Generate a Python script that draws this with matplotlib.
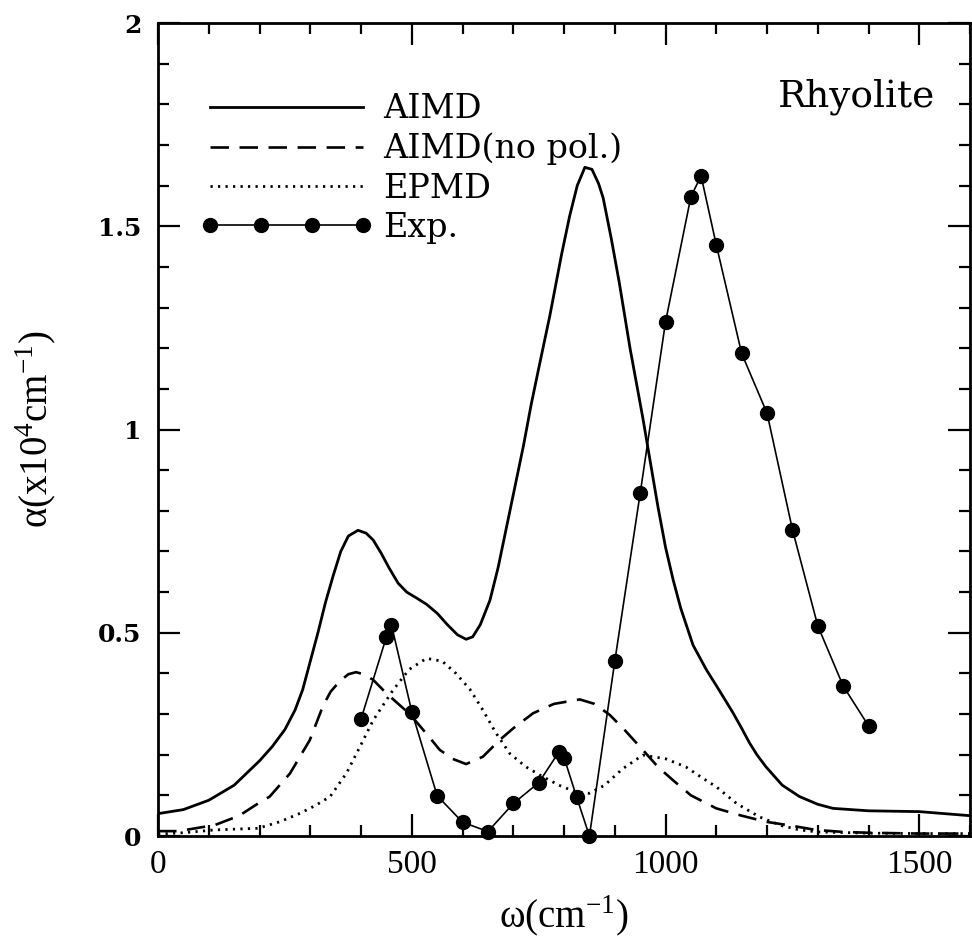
import matplotlib.pyplot as plt
from matplotlib.ticker import MultipleLocator, FixedLocator

plt.rcParams["mathtext.fontset"] = "custom"
plt.rcParams["mathtext.rm"] = "Liberation Serif"

# Absorption spectra of rhyolite.
# alpha in units of 1e4 cm^-1, omega in cm^-1.

aimd_x = [0, 50, 100, 150, 200, 225, 250, 270, 285, 300, 315, 330, 345, 360, 375, 394,
          410, 424, 440, 455, 473, 490, 510, 529, 550, 570, 590, 607, 620, 635, 654,
          670, 690, 705, 720, 735, 750, 772, 795, 811, 826, 841, 855, 868, 877, 893,
          909, 930, 955, 970, 985, 1000, 1015, 1030, 1054, 1080, 1105, 1132, 1150,
          1165, 1180, 1198, 1230, 1264, 1300, 1330, 1400, 1500, 1600]
aimd_y = [0.055, 0.065, 0.088, 0.125, 0.185, 0.22, 0.262, 0.31, 0.36, 0.43, 0.50, 0.575,
          0.64, 0.70, 0.738, 0.752, 0.745, 0.728, 0.695, 0.66, 0.622, 0.60, 0.585, 0.57,
          0.548, 0.52, 0.495, 0.484, 0.49, 0.52, 0.58, 0.66, 0.78, 0.87, 0.96, 1.06,
          1.15, 1.28, 1.43, 1.525, 1.60, 1.645, 1.64, 1.605, 1.57, 1.47, 1.36, 1.20,
          1.03, 0.92, 0.81, 0.71, 0.63, 0.56, 0.47, 0.41, 0.36, 0.305, 0.265, 0.23,
          0.20, 0.17, 0.125, 0.097, 0.078, 0.068, 0.062, 0.060, 0.050]

nopol_x = [0, 40, 112, 160, 197, 220, 260, 299, 325, 340, 358, 375, 390, 405, 424, 450,
           496, 530, 555, 580, 607, 640, 673, 700, 739, 780, 831, 860, 890, 920, 955,
           985, 1014, 1050, 1100, 1150, 1198, 1250, 1296, 1350, 1400, 1500, 1600]
nopol_y = [0.012, 0.012, 0.027, 0.05, 0.08, 0.097, 0.154, 0.236, 0.32, 0.355, 0.381,
           0.398, 0.403, 0.398, 0.384, 0.351, 0.30, 0.25, 0.212, 0.19, 0.177, 0.195,
           0.236, 0.265, 0.302, 0.325, 0.336, 0.325, 0.298, 0.26, 0.212, 0.17, 0.138,
           0.10, 0.068, 0.05, 0.035, 0.025, 0.015, 0.01, 0.008, 0.006, 0.006]

epmd_x = [0, 50, 112, 197, 240, 280, 310, 339, 371, 398, 424, 463, 495, 529, 560, 587,
          615, 640, 665, 693, 725, 758, 790, 820, 850, 880, 915, 955, 1000, 1040, 1070,
          1100, 1140, 1185, 1230, 1264, 1300, 1400, 1500, 1600]
epmd_y = [0.005, 0.008, 0.015, 0.019, 0.035, 0.056, 0.075, 0.097, 0.154, 0.22, 0.285,
          0.359, 0.41, 0.437, 0.43, 0.40, 0.36, 0.31, 0.255, 0.203, 0.17, 0.146, 0.125,
          0.11, 0.105, 0.125, 0.165, 0.199, 0.19, 0.17, 0.145, 0.121, 0.08, 0.047, 0.025,
          0.015, 0.01, 0.007, 0.006, 0.006]

exp_x = [400, 450, 460, 500, 550, 600, 650, 700, 750, 790, 800, 825, 850, 900, 950,
         1000, 1050, 1070, 1100, 1150, 1200, 1250, 1300, 1350, 1400]
exp_y = [0.288, 0.49, 0.519, 0.306, 0.099, 0.034, 0.011, 0.080, 0.131, 0.207, 0.193,
         0.095, 0.0, 0.43, 0.843, 1.265, 1.573, 1.624, 1.454, 1.187, 1.04, 0.754, 0.517,
         0.369, 0.271]

xticks = [0, 500, 1000, 1500]
yticks = [0, 0.5, 1, 1.5, 2]
ytick_labels = ["0", "0.5", "1", "1.5", "2"]

fig = plt.figure(figsize=(9.72, 9.47), dpi=100)
ax = fig.add_axes([0.1626, 0.1172, 0.8354, 0.8585])

ax.plot(aimd_x, aimd_y, color="black", lw=2.0, label="AIMD")
ax.plot(nopol_x, nopol_y, color="black", lw=1.9, dashes=(7, 4), label="AIMD(no pol.)")
ax.plot(epmd_x, epmd_y, color="black", lw=2.0, dashes=(0.8, 1.9), label="EPMD")
ax.plot(exp_x, exp_y, color="black", lw=1.2, marker="o", ms=10, clip_on=False,
        label="Exp.", zorder=5)

ax.set_xlim(0, 1600)
ax.set_ylim(0, 2)
ax.xaxis.set_major_locator(FixedLocator(xticks))
ax.xaxis.set_minor_locator(MultipleLocator(100))
ax.yaxis.set_major_locator(FixedLocator(yticks))
ax.yaxis.set_minor_locator(MultipleLocator(0.1))
ax.set_yticklabels(ytick_labels)

ax.tick_params(which="both", direction="in", top=True, right=True, width=1.6, color="black")
ax.tick_params(which="major", length=16)
ax.tick_params(which="minor", length=8)
ax.tick_params(axis="x", which="major", pad=10, labelsize=24)
ax.tick_params(axis="y", which="major", pad=12, labelsize=18)
for lab in ax.get_xticklabels():
    lab.set_family("Liberation Serif")
for lab in ax.get_yticklabels():
    lab.set_family("DejaVu Serif")
    lab.set_fontweight("bold")

for s in ax.spines.values():
    s.set_linewidth(2)

ax.set_xlabel("ω(cm$^{-1}$)", family="Liberation Serif", fontsize=28, labelpad=10)
ax.set_ylabel("α(x10$^{4}$cm$^{-1}$)", family="Liberation Serif", fontsize=28, labelpad=28)

ax.text(0.957, 0.909, "Rhyolite", transform=ax.transAxes, ha="right", va="center",
        family="DejaVu Serif", fontsize=27)

leg = ax.legend(loc="upper left", bbox_to_anchor=(0.035, 0.93), frameon=False,
                handlelength=5.2, handletextpad=0.3, labelspacing=0.22, numpoints=4,
                prop={"family": "DejaVu Serif", "size": 24}, borderaxespad=0)

fig.savefig("out.png", dpi=100)
